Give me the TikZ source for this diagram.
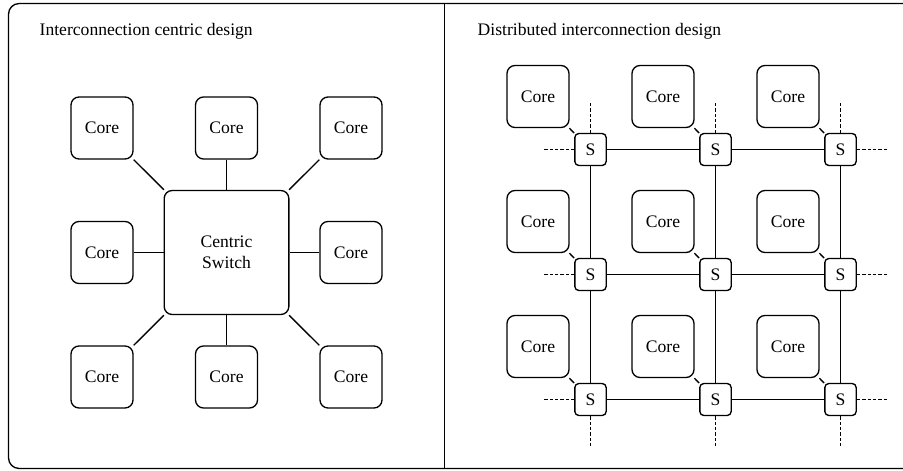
\documentclass[tikz,border=0pt]{standalone}
\usepackage{fontspec}
\setmainfont{Liberation Serif}

\begin{document}
\begin{tikzpicture}[x=0.75pt, y=-0.75pt, line width=1pt,
	every node/.style={font=\fontsize{13.2}{16}\selectfont},
	core/.style={draw, rounded corners=6pt, minimum width=46.5pt, minimum height=46.5pt, inner sep=0pt},
	hub/.style={draw, rounded corners=6pt, minimum width=93.5pt, minimum height=93pt, inner sep=0pt, align=center},
	switchbox/.style={draw, rounded corners=3pt, minimum width=23.5pt, minimum height=24pt, inner sep=0pt},
	stub/.style={dashed, dash pattern=on 2.5pt off 1.5pt}]
	\useasboundingbox (0,0) rectangle (903,471);
	% outer frame and divider
	\draw[rounded corners=8pt] (930,3.5) -- (8.5,3.5) -- (8.5,468.5) -- (930,468.5);
	\draw (444.5,3.5) -- (444.5,468.5);
	\node[anchor=base west, inner sep=0pt] (lefttitle) at (39,35) {Interconnection centric design};
	\node[anchor=base west, inner sep=0pt] (righttitle) at (477,35) {Distributed interconnection design};
	% left: centric switch
	\node[hub] (cs) at (226.5,252.5) {Centric\\Switch};
	\foreach \name/\x/\y in {nw/102/128, n/226.5/128, ne/351/128, w/102/252.5, e/351/252.5, sw/102/377, s/226.5/377, se/351/377} {
		\node[core] (c-\name) at (\x,\y) {Core};
		\draw (c-\name) -- (cs);
	}
	% right: mesh of switches
	\foreach \i/\x in {1/538, 2/663, 3/788} {
		\foreach \j/\y in {1/96.5, 2/221.5, 3/346.5} {
			\node[core] (m\i\j) at (\x,\y) {Core};
			\node[switchbox] (s\i\j) at (\x+52.5,\y+53) {S};
			\draw (m\i\j) -- (s\i\j);
		}
	}
	\foreach \j in {1,2,3} {
		\draw (s1\j) -- (s2\j) -- (s3\j);
	}
	\foreach \i in {1,2,3} {
		\draw (s\i1) -- (s\i2) -- (s\i3);
		\draw[stub] (s\i1.north) -- ++(0,-30);
		\draw[stub] (s\i3.south) -- ++(0,30);
		\draw[stub] (s1\i.west) -- ++(-31,0);
		\draw[stub] (s3\i.east) -- ++(31,0);
	}
\end{tikzpicture}
\end{document}
